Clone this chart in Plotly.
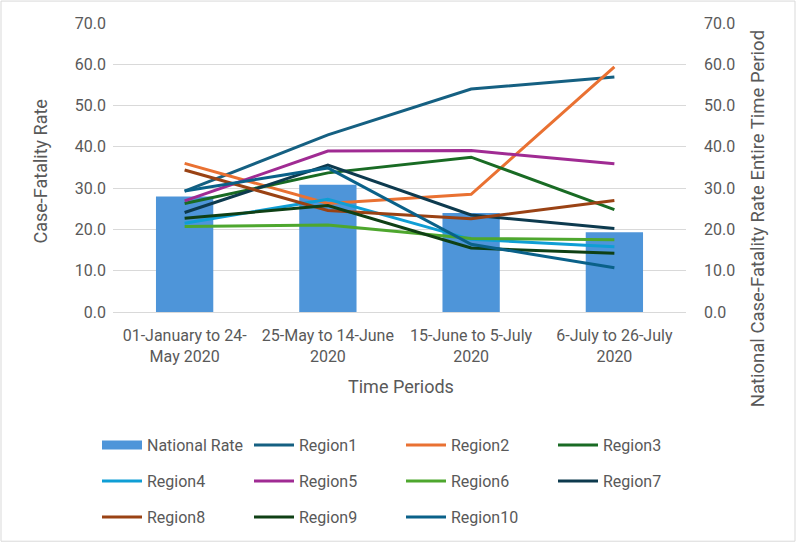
import plotly.graph_objects as go

categories = ["01-January to 24-<br>May 2020", "25-May to 14-June<br>2020",
              "15-June to 5-July<br>2020", "6-July to 26-July<br>2020"]
national = [28.0, 30.8, 24.0, 19.3]
region_names = ["Region1", "Region2", "Region3", "Region4", "Region5",
                "Region6", "Region7", "Region8", "Region9", "Region10"]
region1 = [29.3, 42.9, 54.0, 56.9]
region2 = [36.0, 26.3, 28.5, 59.4]
region3 = [26.3, 33.7, 37.5, 24.8]
region4 = [21.5, 27.3, 17.6, 15.8]
region5 = [26.9, 39.0, 39.1, 35.9]
region6 = [20.7, 21.1, 17.8, 17.5]
region7 = [24.1, 35.6, 23.5, 20.2]
region8 = [34.4, 24.6, 22.6, 27.0]
region9 = [22.7, 25.8, 15.5, 14.2]
region10 = [29.3, 34.9, 16.4, 10.7]
regions = [region1, region2, region3, region4, region5,
           region6, region7, region8, region9, region10]
colors = ["#156082", "#E97132", "#196B24", "#0F9ED5", "#A02B93",
          "#4EA72E", "#0D3A4E", "#9A4214", "#0F4015", "#0A6189"]
BAR_COLOR = "#4E95D9"

FONT = "Roboto, sans-serif"
GRAY = "#595959"

L, R, T, B = 113, 686, 23, 313
W, H = 796, 544
pw, ph = R - L, B - T

def py(p):
    return (B - p) / ph

def px(p):
    return (p - L) / pw

fig = go.Figure()
fig.add_trace(go.Bar(x=categories, y=national, name="National Rate",
                     marker=dict(color=BAR_COLOR, line=dict(width=0)),
                     width=0.4, showlegend=False))
# legend entry for the bar series drawn as a wide swatch
fig.add_trace(go.Scatter(x=[None], y=[None], name="National Rate", mode="lines",
                         line=dict(color=BAR_COLOR, width=9), legend="legend"))
legend_map = ["legend", "legend", "legend", "legend2", "legend2", "legend2",
              "legend2", "legend3", "legend3", "legend3"]
for name, vals, col, lg in zip(region_names, regions, colors, legend_map):
    fig.add_trace(go.Scatter(x=categories, y=vals, name=name, mode="lines",
                             line=dict(color=col, width=3), legend=lg))
# invisible trace to carry the secondary axis
fig.add_trace(go.Scatter(x=categories, y=national, yaxis="y2", mode="lines",
                         line=dict(width=0), showlegend=False, hoverinfo="skip"))

legend_common = dict(orientation="h", entrywidth=97, entrywidthmode="pixels",
                     xanchor="left", yanchor="middle", x=px(97),
                     font=dict(family=FONT, size=16, color=GRAY),
                     bgcolor="rgba(0,0,0,0)", itemwidth=40)

fig.update_layout(
    width=W, height=H,
    margin=dict(l=L, r=W - R, t=T, b=H - B),
    paper_bgcolor="white", plot_bgcolor="white",
    font=dict(family=FONT, size=16, color=GRAY),
    xaxis=dict(tickfont=dict(size=16, color=GRAY), showgrid=False,
               ticklabelstandoff=12,
               ticks="", showline=False),
    yaxis=dict(range=[0, 70], dtick=10, tickformat=".1f", showgrid=True,
               gridcolor="#D9D9D9", gridwidth=1, zeroline=True, zerolinecolor="#D9D9D9",
               zerolinewidth=1, ticks="", tickfont=dict(size=16, color=GRAY),
               ticklabelstandoff=6),
    yaxis2=dict(range=[0, 70], dtick=10, tickformat=".1f", overlaying="y", side="right",
                showgrid=False, zeroline=False, ticks="", tickfont=dict(size=16, color=GRAY),
                ticklabelstandoff=17),
    legend=dict(y=py(445), **legend_common),
    legend2=dict(y=py(481), **legend_common),
    legend3=dict(y=py(517), **legend_common),
    annotations=[
        dict(text="Time Periods", xref="paper", yref="paper", x=px(401), y=py(388),
             showarrow=False, font=dict(size=18, color=GRAY), xanchor="center", yanchor="middle"),
        dict(text="Case-Fatality Rate", xref="paper", yref="paper", x=px(40), y=py(172),
             textangle=-90, showarrow=False, font=dict(size=18, color=GRAY),
             xanchor="center", yanchor="middle"),
        dict(text="National Case-Fatality Rate Entire Time Period", xref="paper", yref="paper",
             x=px(758), y=py(220), textangle=-90, showarrow=False,
             font=dict(size=18.5, color=GRAY), xanchor="center", yanchor="middle"),
    ],
    shapes=[dict(type="rect", xref="paper", yref="paper",
                 x0=px(1), x1=px(795), y0=py(543), y1=py(1),
                 line=dict(color="#D9D9D9", width=1), fillcolor="rgba(0,0,0,0)")],
)

fig.write_html("out.html")
